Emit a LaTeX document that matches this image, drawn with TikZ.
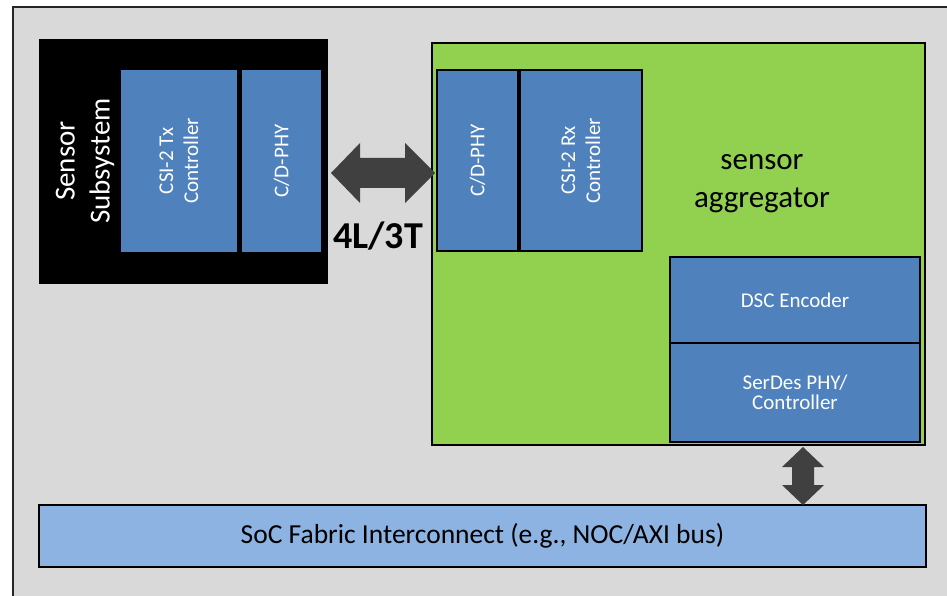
\documentclass[tikz,border=0pt]{standalone}
\usepackage{fontspec}
\setmainfont{Carlito}
\usetikzlibrary{calc}

\definecolor{panelgray}{HTML}{D9D9D9}
\definecolor{blockblue}{HTML}{4F81BD}
\definecolor{aggreen}{HTML}{92D050}
\definecolor{fabricblue}{HTML}{8DB3E2}
\definecolor{arrowgray}{HTML}{404040}

\newcommand{\fsz}[2]{\fontsize{#1}{#2}\selectfont}

\tikzset{
  box/.style={rectangle, inner sep=0pt, outer sep=0pt, align=center},
  txblock/.style={box, fill=blockblue, text=white, font=\fsz{21}{25}},
  rxblock/.style={box, fill=blockblue, draw=black, line width=2pt, text=white, font=\fsz{21}{25}},
  blockarrow/.style={fill=arrowgray, draw=none},
}

\begin{document}
\begin{tikzpicture}[x=1pt, y=-1pt]
  \useasboundingbox (0,0) rectangle (947,596);
  \fill[white] (0,0) rectangle (947,596);

  % outer panel
  \fill[panelgray] (13,7) rectangle (960,610);
  \draw[line width=2pt, black!85] (13,610) -- (13,7) -- (960,7);

  % sensor subsystem
  \node[box, fill=black, minimum width=289, minimum height=245] (sens) at (183.5,161.5) {};
  \node[box, text=white, rotate=90, font=\fsz{29}{35}] (senslbl) at (85,161) {Sensor\\Subsystem};
  \node[txblock, minimum width=116, minimum height=182] (csitx) at (179,161) {};
  \node[box, text=white, rotate=90, font=\fsz{21}{25}] at (csitx) {CSI-2 Tx\\Controller};
  \node[txblock, minimum width=79, minimum height=182] (phytx) at (281.5,161) {};
  \node[box, text=white, rotate=90, font=\fsz{21}{25}] at (phytx) {C/D-PHY};

  % sensor aggregator
  \node[box, fill=aggreen, draw=black, line width=2pt, minimum width=493, minimum height=402] (agg) at (678.5,244) {};
  \node[rxblock, minimum width=81, minimum height=181] (phyrx) at (477.5,160.5) {};
  \node[box, text=white, rotate=90, font=\fsz{21}{25}] at (phyrx) {C/D-PHY};
  \node[rxblock, minimum width=122, minimum height=181] (csirx) at (581,160.5) {};
  \node[box, text=white, rotate=90, font=\fsz{21}{25}] at (csirx) {CSI-2 Rx\\Controller};
  \node[box, font=\fsz{31}{38}] (agglbl) at (762,184) {sensor\\aggregator};
  \node[rxblock, minimum width=250, minimum height=86] (dsc) at (795,300) {DSC Encoder};
  \node[rxblock, minimum width=250, minimum height=99, font=\fsz{21}{20}] (serdes) at (795,392.5) {SerDes PHY/\\Controller};

  % SoC fabric
  \node[box, fill=fabricblue, draw=black, line width=1.5pt, minimum width=887, minimum height=62,
        font=\fsz{27.5}{30}] (soc) at (482.5,536) {SoC Fabric Interconnect (e.g., NOC/AXI bus)};

  % lane link between the PHYs
  \coordinate (linkL) at ($(sens.east |- 0,173)+(3,0)$);
  \coordinate (linkR) at ($(agg.west |- 0,173)+(3,0)$);
  \fill[blockarrow] (linkL) -- ++(29,-30) -- ++(0,15) -- ++(45,0) -- ++(0,-15)
    -- (linkR) -- ++(-30,30) -- ++(0,-15) -- ++(-45,0) -- ++(0,15) -- cycle;
  \node[box, font=\bfseries\fsz{38}{40}] (lanes) at (378,236) {4L/3T};

  % link to the fabric
  \coordinate (busT) at ($(agg.south -| 803,0)+(0,2)$);
  \coordinate (busB) at (soc.north -| 803,0);
  \fill[blockarrow] (busT) -- ++(21,20) -- ++(-10,0) -- ++(0,18) -- ++(10,0)
    -- (busB) -- ++(-21,-20) -- ++(10,0) -- ++(0,-18) -- ++(-10,0) -- cycle;
\end{tikzpicture}
\end{document}
